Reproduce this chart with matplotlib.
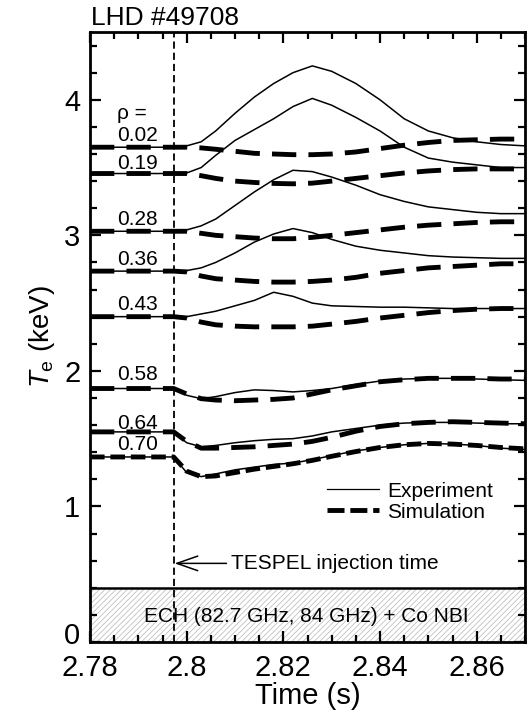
import matplotlib
matplotlib.use("Agg")
import matplotlib.pyplot as plt
from matplotlib.lines import Line2D
from matplotlib.ticker import MultipleLocator

plt.rcParams['font.family'] = ['Liberation Sans', 'DejaVu Sans']
plt.rcParams['mathtext.fontset'] = 'custom'
plt.rcParams['mathtext.rm'] = 'Liberation Sans'
plt.rcParams['mathtext.it'] = 'Liberation Sans:italic'
plt.rcParams['hatch.linewidth'] = 0.5

t = [2.78, 2.7973, 2.800, 2.803, 2.806, 2.810, 2.814, 2.818, 2.822, 2.826,
     2.830, 2.835, 2.840, 2.845, 2.850, 2.855, 2.860, 2.865, 2.87]

t_inj = 2.7973

rho_labels = ['0.02', '0.19', '0.28', '0.36', '0.43', '0.58', '0.64', '0.70']
rho_label_y = [3.74, 3.53, 3.12, 2.82, 2.49, 1.97, 1.61, 1.46]

# experiment Te (keV)
exp_002 = [3.65, 3.65, 3.66, 3.69, 3.77, 3.90, 4.02, 4.12, 4.20, 4.25,
           4.21, 4.12, 4.00, 3.86, 3.77, 3.72, 3.69, 3.67, 3.66]
exp_019 = [3.456, 3.456, 3.46, 3.50, 3.59, 3.70, 3.78, 3.86, 3.95, 4.01,
           3.96, 3.87, 3.77, 3.65, 3.57, 3.54, 3.52, 3.50, 3.50]
exp_028 = [3.03, 3.03, 3.04, 3.07, 3.12, 3.22, 3.32, 3.41, 3.48, 3.47,
           3.43, 3.37, 3.30, 3.25, 3.21, 3.19, 3.17, 3.16, 3.16]
exp_036 = [2.736, 2.736, 2.74, 2.76, 2.80, 2.87, 2.95, 3.01, 3.05, 3.02,
           2.97, 2.92, 2.89, 2.87, 2.85, 2.84, 2.835, 2.83, 2.83]
exp_043 = [2.40, 2.40, 2.40, 2.42, 2.44, 2.48, 2.52, 2.58, 2.55, 2.50,
           2.48, 2.475, 2.47, 2.47, 2.465, 2.46, 2.46, 2.46, 2.46]
exp_058 = [1.87, 1.87, 1.82, 1.795, 1.81, 1.84, 1.86, 1.855, 1.845, 1.855,
           1.87, 1.90, 1.925, 1.94, 1.945, 1.945, 1.94, 1.935, 1.93]
exp_064 = [1.55, 1.55, 1.47, 1.44, 1.45, 1.47, 1.485, 1.495, 1.50, 1.52,
           1.55, 1.575, 1.60, 1.615, 1.62, 1.62, 1.615, 1.61, 1.61]
exp_070 = [1.365, 1.365, 1.25, 1.22, 1.24, 1.27, 1.29, 1.31, 1.32, 1.345,
           1.375, 1.41, 1.435, 1.455, 1.465, 1.46, 1.45, 1.43, 1.42]

# simulation Te (keV)
sim_002 = [3.65, 3.65, 3.65, 3.645, 3.635, 3.62, 3.605, 3.60, 3.595, 3.595,
           3.60, 3.615, 3.64, 3.665, 3.685, 3.70, 3.705, 3.71, 3.71]
sim_019 = [3.456, 3.456, 3.456, 3.44, 3.42, 3.40, 3.39, 3.383, 3.38, 3.385,
           3.40, 3.42, 3.44, 3.46, 3.475, 3.485, 3.49, 3.49, 3.49]
sim_028 = [3.03, 3.03, 3.03, 3.015, 3.00, 2.99, 2.98, 2.975, 2.975, 2.985,
           3.00, 3.02, 3.04, 3.06, 3.075, 3.085, 3.095, 3.10, 3.10]
sim_036 = [2.736, 2.736, 2.73, 2.70, 2.68, 2.67, 2.66, 2.655, 2.655, 2.66,
           2.67, 2.69, 2.72, 2.74, 2.76, 2.77, 2.78, 2.79, 2.79]
sim_043 = [2.40, 2.40, 2.39, 2.36, 2.34, 2.33, 2.325, 2.325, 2.325, 2.33,
           2.345, 2.365, 2.39, 2.41, 2.43, 2.445, 2.455, 2.46, 2.46]
sim_058 = [1.87, 1.87, 1.83, 1.795, 1.785, 1.78, 1.785, 1.79, 1.80, 1.83,
           1.86, 1.89, 1.92, 1.935, 1.945, 1.945, 1.945, 1.94, 1.94]
sim_064 = [1.55, 1.55, 1.48, 1.43, 1.43, 1.435, 1.44, 1.45, 1.46, 1.48,
           1.51, 1.555, 1.59, 1.61, 1.62, 1.625, 1.62, 1.615, 1.61]
sim_070 = [1.365, 1.365, 1.26, 1.22, 1.225, 1.25, 1.275, 1.295, 1.315, 1.34,
           1.37, 1.405, 1.435, 1.455, 1.465, 1.46, 1.45, 1.435, 1.425]

exp_all = [exp_002, exp_019, exp_028, exp_036, exp_043, exp_058, exp_064, exp_070]
sim_all = [sim_002, sim_019, sim_028, sim_036, sim_043, sim_058, sim_064, sim_070]

fig = plt.figure(figsize=(5.27, 7.17), dpi=100)
ax = fig.add_axes([90 / 527, 1 - 642 / 717, 435 / 527, 610 / 717])

# heating band at the bottom
ax.axhspan(0, 0.4, facecolor='white', edgecolor='#b5b5b5', hatch='//////', linewidth=0, zorder=0)
ax.axhline(0.4, color='black', lw=1.8, zorder=3)
ax.text(2.8247, 0.19, 'ECH (82.7 GHz, 84 GHz) + Co NBI', ha='center', va='center', fontsize=15, zorder=4)

for i in range(len(exp_all)):
    dash = (3, 1.2) if i == len(exp_all) - 1 else (5, 2.5)
    ax.plot(t, sim_all[i], color='black', lw=3.5, dashes=dash, solid_capstyle='butt', zorder=2)
    ax.plot(t, exp_all[i], color='black', lw=1.1, zorder=3)
    ax.text(2.7899, rho_label_y[i], rho_labels[i], ha='center', va='center', fontsize=15)
ax.text(2.7887, 3.90, 'ρ =', ha='center', va='center', fontsize=15)

ax.axvline(t_inj, color='black', lw=1.3, dashes=(4, 2.2), zorder=3)
ax.annotate('TESPEL injection time', xy=(t_inj + 0.0002, 0.58), xytext=(2.8091, 0.58),
            ha='left', va='center', fontsize=15,
            arrowprops=dict(arrowstyle='->,head_length=1.0,head_width=0.35', lw=1.1, color='black',
                            shrinkA=1, shrinkB=0))

handles = [Line2D([], [], color='black', lw=0.9),
           Line2D([], [], color='black', lw=3.5, dashes=(3.5, 1.2))]
ax.legend(handles, ['Experiment', 'Simulation'], loc='center left', bbox_to_anchor=(0.545, 0.23),
          frameon=False, fontsize=15, handlelength=2.5, handletextpad=0.4, labelspacing=0.1,
          borderpad=0, borderaxespad=0)

ax.set_xlim(2.78, 2.87)
ax.set_ylim(0, 4.5)
ax.xaxis.set_minor_locator(MultipleLocator(0.005))
ax.yaxis.set_minor_locator(MultipleLocator(0.2))
ax.set_xticks([2.78, 2.80, 2.82, 2.84, 2.86])
ax.set_xticklabels(['2.78', '2.8', '2.82', '2.84', '2.86'])
# the "0" label sits a little above its tick so it clears "2.78"
ax.set_yticks([0, 1, 2, 3, 4])
ax.set_yticklabels(['', '1', '2', '3', '4'])
ax.annotate('0', xy=(0, 0), xycoords=('axes fraction', 'data'), xytext=(-7, 4),
            textcoords='offset points', ha='right', va='center', fontsize=21)
ax.tick_params(which='both', direction='in', top=True, right=True, width=1.6, labelsize=21)
ax.tick_params(axis='x', which='both', pad=9)
ax.tick_params(axis='y', which='both', pad=7)
ax.tick_params(which='major', length=8)
ax.tick_params(which='minor', length=5)
for s in ax.spines.values():
    s.set_linewidth(2)

ax.set_xlabel('Time (s)', fontsize=21, labelpad=0)
ax.set_ylabel('$T_{\\rm e}$ (keV)', fontsize=20, labelpad=5)
ax.text(0.003, 1 + 7 / 610, 'LHD #49708', transform=ax.transAxes, ha='left', va='baseline', fontsize=19)

fig.savefig('out.png', dpi=100)
